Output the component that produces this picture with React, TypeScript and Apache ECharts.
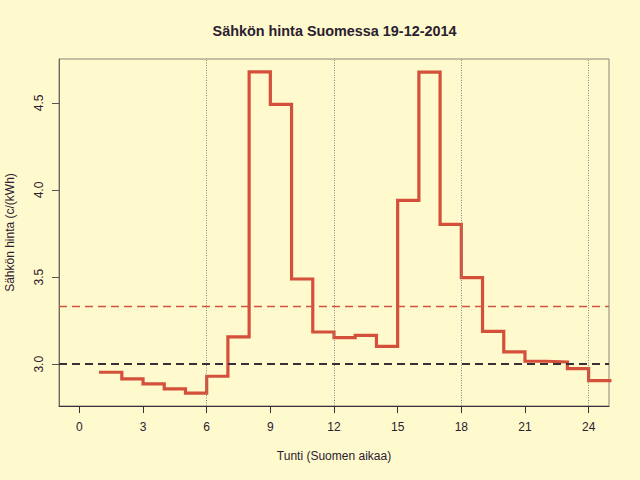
import React, { useEffect, useRef } from "react";
import * as echarts from "echarts";

const titleText = "Sähkön hinta Suomessa 19-12-2014";
const xAxisTitle = "Tunti (Suomen aikaa)";
const yAxisTitle = "Sähkön hinta (c/(kWh)";

const hours = [1, 2, 3, 4, 5, 6, 7, 8, 9, 10, 11, 12, 13, 14, 15, 16, 17, 18, 19, 20, 21, 22, 23, 24];
const prices = [
  2.954, 2.916, 2.887, 2.858, 2.834, 2.931, 3.157, 4.678, 4.491, 3.489, 3.185, 3.153,
  3.166, 3.103, 3.94, 4.676, 3.803, 3.497, 3.189, 3.071, 3.017, 3.013, 2.975, 2.906,
];
const xTicks = [0, 3, 6, 9, 12, 15, 18, 21, 24];
const yTicks = [3.0, 3.5, 4.0, 4.5];
const guideHours = [6, 12, 18, 24];
const referencePrice = 3.0;

const FONT = "Liberation Sans, Arial, Helvetica, sans-serif";

export default function App() {
  const ref = useRef<HTMLDivElement>(null);

  useEffect(() => {
    if (!ref.current) return;
    const chart = echarts.init(ref.current, null, { renderer: "svg" });

    const meanPrice = prices.reduce((a, b) => a + b, 0) / prices.length;
    const stepData: number[][] = hours.map((h, i) => [h, prices[i]]);
    stepData.push([hours[hours.length - 1] + 1, prices[prices.length - 1]]);

    const xMin = xTicks[0] - 0.04 * (xTicks[xTicks.length - 1] - xTicks[0]);
    const xMax = xTicks[xTicks.length - 1] + 0.04 * (xTicks[xTicks.length - 1] - xTicks[0]);
    const pMin = Math.min(...prices);
    const pMax = Math.max(...prices);
    const yMin = pMin - 0.04 * (pMax - pMin);
    const yMax = pMax + 0.04 * (pMax - pMin);

    chart.setOption({
      animation: false,
      backgroundColor: "#FFFACD",
      textStyle: { fontFamily: FONT },
      grid: {
        left: 59,
        top: 59,
        right: 31,
        bottom: 74,
        show: true,
        borderColor: "#8a8478",
        borderWidth: 1,
        backgroundColor: "transparent",
      },
      graphic: [
        {
          type: "text",
          x: 334.5,
          y: 31,
          style: {
            text: titleText,
            font: `bold 14.4px ${FONT}`,
            fill: "#2a2030",
            textAlign: "center",
            textVerticalAlign: "middle",
          },
        },
        {
          type: "text",
          x: 334,
          y: 456,
          style: {
            text: xAxisTitle,
            font: `12px ${FONT}`,
            fill: "#2a2030",
            textAlign: "center",
            textVerticalAlign: "middle",
          },
        },
        {
          type: "text",
          x: 10,
          y: 232.5,
          rotation: Math.PI / 2,
          style: {
            text: yAxisTitle,
            font: `12px ${FONT}`,
            fill: "#2a2030",
            textAlign: "center",
            textVerticalAlign: "middle",
          },
        },
      ],
      xAxis: {
        type: "value",
        min: xMin,
        max: xMax,
        axisLine: { show: true, onZero: false, lineStyle: { color: "#3a3038", width: 1 } },
        axisTick: {
          show: true,
          length: 7,
          customValues: xTicks,
          lineStyle: { color: "#3a3038" },
        },
        axisLabel: {
          show: true,
          customValues: xTicks,
          margin: 15,
          fontSize: 12,
          color: "#2a2030",
          fontFamily: FONT,
        },
        splitLine: { show: false },
      },
      yAxis: {
        type: "value",
        min: yMin,
        max: yMax,
        axisLine: { show: true, onZero: false, lineStyle: { color: "#6e6860", width: 1 } },
        axisTick: {
          show: true,
          length: 7,
          customValues: yTicks,
          lineStyle: { color: "#5a5450" },
        },
        axisLabel: {
          show: true,
          customValues: yTicks,
          rotate: 90,
          margin: 14,
          fontSize: 12,
          color: "#2a2030",
          fontFamily: FONT,
          formatter: (v: number) => v.toFixed(1),
        },
        splitLine: { show: false },
      },
      series: [
        {
          type: "line",
          data: guideHours.map((h) => [h, referencePrice]),
          symbol: "none",
          lineStyle: { width: 0, opacity: 0 },
          silent: true,
          z: 1,
          markLine: {
            silent: true,
            symbol: "none",
            label: { show: false },
            lineStyle: { color: "#8a8480", width: 1, type: [1, 1.5] },
            data: guideHours.map((h) => ({ xAxis: h })),
          },
        },
        {
          type: "line",
          data: stepData,
          step: "end",
          symbol: "none",
          clip: true,
          z: 3,
          lineStyle: { color: "#D4503A", width: 3.2, cap: "square", join: "miter" },
        },
        {
          type: "line",
          data: [[hours[0], meanPrice]],
          symbol: "none",
          lineStyle: { width: 0, opacity: 0 },
          silent: true,
          z: 2,
          markLine: {
            silent: true,
            symbol: "none",
            label: { show: false },
            data: [
              { yAxis: referencePrice, lineStyle: { color: "#3a3038", width: 1.8, type: [8, 5] } },
              { yAxis: meanPrice, lineStyle: { color: "#CF5540", width: 1.3, type: [8, 5] } },
            ],
          },
        },
      ],
    });

    return () => chart.dispose();
  }, []);

  return (
    <div
      ref={ref}
      style={{ position: "fixed", left: 0, top: 0, width: 640, height: 480 }}
    />
  );
}
